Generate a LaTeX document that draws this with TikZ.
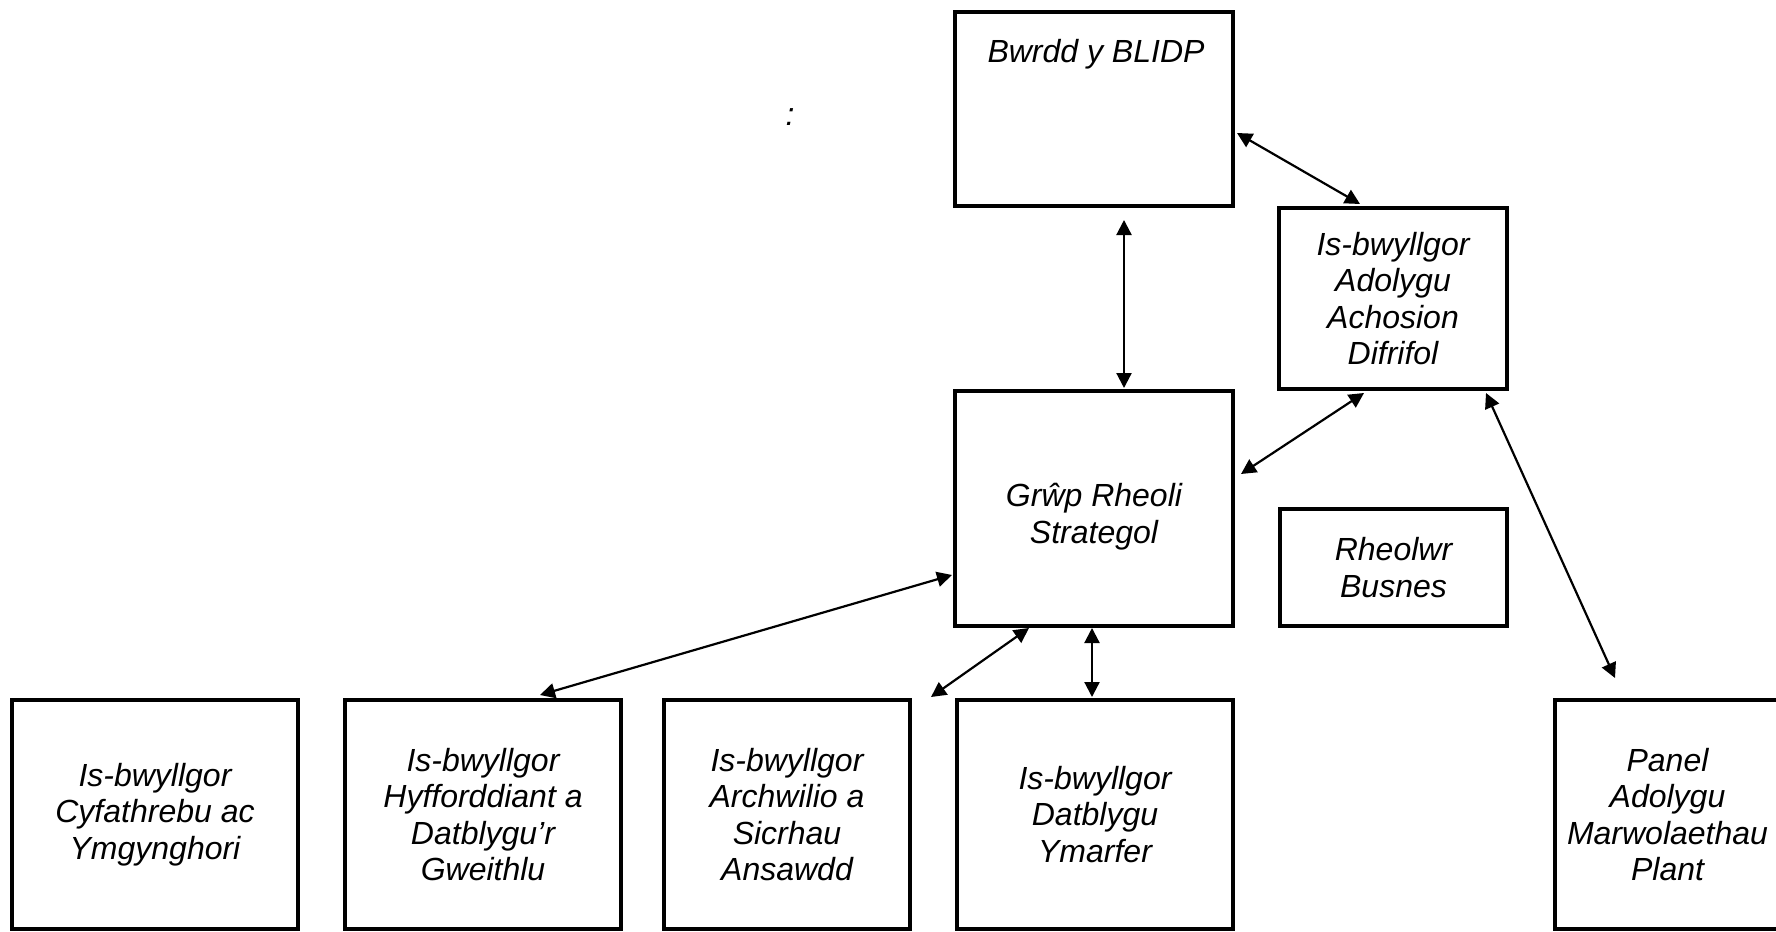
\documentclass[tikz,border=0pt]{standalone}
\usepackage{fontspec}
\setmainfont{Liberation Sans}
\usetikzlibrary{calc,arrows.meta}
\tikzset{
  box/.style={draw=black, line width=2pt, rectangle, inner sep=0pt, outer sep=0pt, fill=white},
  txt/.style={align=center, font=\fontsize{16pt}{18.25pt}\selectfont\itshape, inner sep=0pt},
  arr/.style={line width=1.1pt, {Triangle[length=7.5pt,width=7.5pt]}-{Triangle[length=7.5pt,width=7.5pt]}}
}
\begin{document}
\begin{tikzpicture}[x=0.5pt,y=-0.5pt]
\useasboundingbox (0,0) rectangle (1776,931);
\clip (0,0) rectangle (1776,931);
\fill[white] (0,0) rectangle (1776,931);

% boxes
\node[box, minimum width=139pt, minimum height=97pt] (bwrdd) at (1094,109) {};
\node[txt, anchor=base] (bwrddt) at ($(bwrdd.north)+(2,51)$) {Bwrdd y BLIDP};
\node[box, txt, minimum width=114pt, minimum height=90.5pt] (adolygu) at (1393,298.5) {Is-bwyllgor\\Adolygu\\Achosion\\Difrifol};
\node[box, minimum width=139pt, minimum height=117.5pt] (grwp) at (1094,508.5) {};
\node[txt] (grwpt) at ($(grwp.center)+(0,8)$) {Grŵp Rheoli\\Strategol};
\node[box, txt, minimum width=113.5pt, minimum height=58.5pt] (rheolwr) at (1393.5,567.5) {Rheolwr\\Busnes};
\node[box, txt, minimum width=143pt, minimum height=114.5pt] (b1) at (155,814.5) {Is-bwyllgor\\Cyfathrebu ac\\Ymgynghori};
\node[box, txt, minimum width=138pt, minimum height=114.5pt] (b2) at (483,814.5) {Is-bwyllgor\\Hyfforddiant a\\Datblygu’r\\Gweithlu};
\node[box, txt, minimum width=123pt, minimum height=114.5pt] (b3) at (787,814.5) {Is-bwyllgor\\Archwilio a\\Sicrhau\\Ansawdd};
\node[box, txt, minimum width=138pt, minimum height=114.5pt] (dat) at (1095,814.5) {Is-bwyllgor\\Datblygu\\Ymarfer};
\node[box, txt, minimum width=112.5pt, minimum height=114.5pt] (panel) at (1667.5,814.5) {Panel\\Adolygu\\Marwolaethau\\Plant};

\node[txt] (colon) at (790,117) {:};

% connectors
\draw[arr] ($(bwrdd.north east)+(4,121)$) -- ($(adolygu.north west)+(81,-4)$);
\draw[arr] ($(bwrdd.south west)+(169,14)$) -- ($(grwp.north west)+(169,-3)$);
\draw[arr] ($(adolygu.south west)+(85,4)$) -- ($(grwp.north east)+(8,83)$);
\draw[arr] ($(adolygu.south west)+(207,4)$) -- ($(panel.north west)+(60,-22)$);
\draw[arr] ($(grwp.south west)+(-3,-51)$) -- ($(b2.north west)+(195,-5)$);
\draw[arr] ($(grwp.south west)+(74,2)$) -- ($(b3.north east)+(21,-3)$);
\draw[arr] ($(grwp.south west)+(137,2)$) -- ($(dat.north west)+(135,-3)$);
\end{tikzpicture}
\end{document}
